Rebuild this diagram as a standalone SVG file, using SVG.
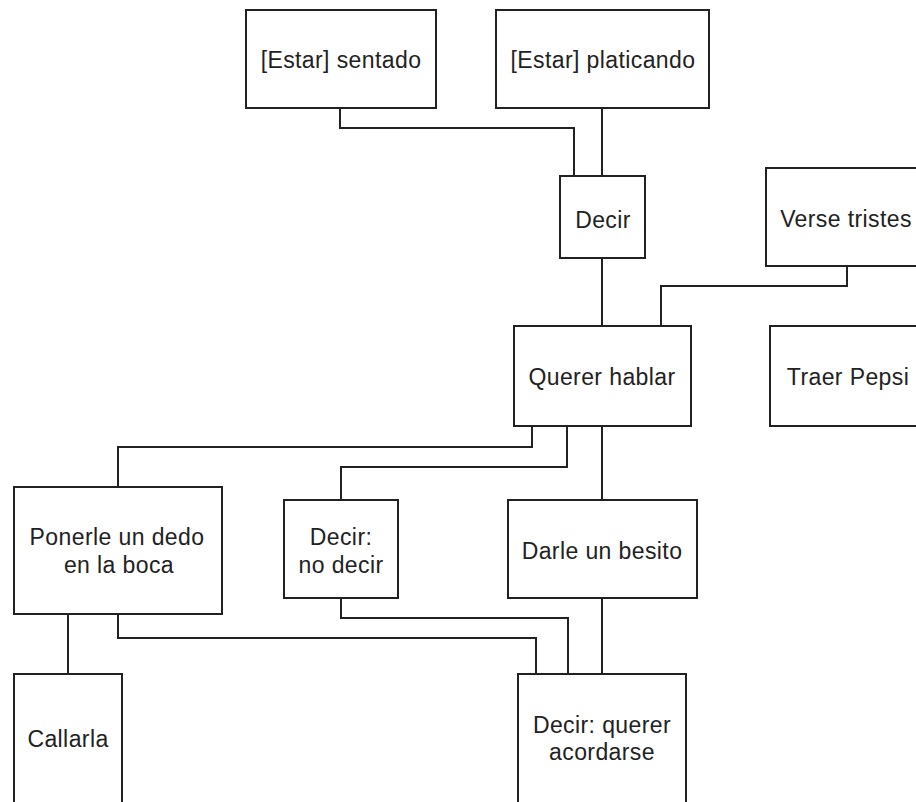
<svg xmlns="http://www.w3.org/2000/svg" width="916" height="802" viewBox="0 0 916 802">
  <style>
    .box { fill: #ffffff; stroke: #222222; stroke-width: 2; }
    .link { fill: none; stroke: #222222; stroke-width: 2; }
    .lbl { font-family: "Liberation Sans", Arial, sans-serif; font-size: 23px; fill: #222222; text-anchor: middle; letter-spacing: 0.4px; }
  </style>
  <rect x="0" y="0" width="916" height="802" fill="#ffffff"/>

  <g id="connectors">
    <path class="link" d="M340,108 V128 H574 V176"/>
    <path class="link" d="M602,108 V176"/>
    <path class="link" d="M602,258 V326"/>
    <path class="link" d="M847,266 V286 H661 V326"/>
    <path class="link" d="M532,426 V447 H118 V487"/>
    <path class="link" d="M567,426 V467 H341 V500"/>
    <path class="link" d="M602,426 V500"/>
    <path class="link" d="M68,614 V674"/>
    <path class="link" d="M118,614 V638 H536 V674"/>
    <path class="link" d="M341,598 V618 H568 V674"/>
    <path class="link" d="M602,598 V674"/>
  </g>

  <g id="estar-sentado">
    <rect class="box" x="246" y="10" width="190" height="98"/>
    <text class="lbl" x="341" y="68">[Estar] sentado</text>
  </g>
  <g id="estar-platicando">
    <rect class="box" x="496" y="10" width="213" height="98"/>
    <text class="lbl" x="603" y="68">[Estar] platicando</text>
  </g>
  <g id="decir">
    <rect class="box" x="560" y="176" width="85" height="82"/>
    <text class="lbl" x="603" y="228">Decir</text>
  </g>
  <g id="verse-tristes">
    <rect class="box" x="766" y="168" width="170" height="98"/>
    <text class="lbl" x="846" y="227">Verse tristes</text>
  </g>
  <g id="querer-hablar">
    <rect class="box" x="514" y="326" width="177" height="100"/>
    <text class="lbl" x="602" y="385">Querer hablar</text>
  </g>
  <g id="traer-pepsi">
    <rect class="box" x="770" y="326" width="170" height="100"/>
    <text class="lbl" x="848" y="385">Traer Pepsi</text>
  </g>
  <g id="ponerle-dedo">
    <rect class="box" x="14" y="487" width="208" height="127"/>
    <text class="lbl" x="117" y="545">Ponerle un dedo</text>
    <text class="lbl" x="119" y="573">en la boca</text>
  </g>
  <g id="decir-no-decir">
    <rect class="box" x="284" y="500" width="114" height="98"/>
    <text class="lbl" x="341" y="545">Decir:</text>
    <text class="lbl" x="341" y="573">no decir</text>
  </g>
  <g id="darle-besito">
    <rect class="box" x="508" y="500" width="189" height="98"/>
    <text class="lbl" x="602" y="559">Darle un besito</text>
  </g>
  <g id="callarla">
    <rect class="box" x="14" y="674" width="108" height="140"/>
    <text class="lbl" x="68" y="747">Callarla</text>
  </g>
  <g id="decir-querer-acordarse">
    <rect class="box" x="518" y="674" width="168" height="140"/>
    <text class="lbl" x="602" y="733">Decir: querer</text>
    <text class="lbl" x="602" y="760">acordarse</text>
  </g>
</svg>
